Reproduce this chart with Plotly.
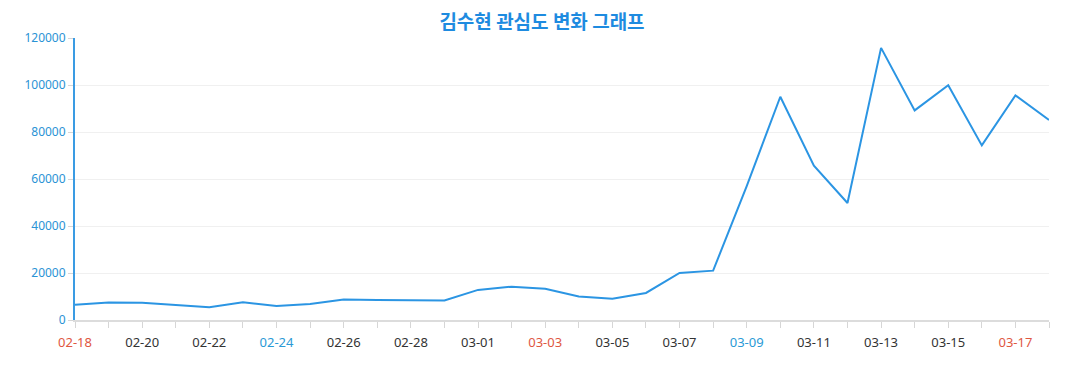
import plotly.graph_objects as go

dates = ["02-18","02-19","02-20","02-21","02-22","02-23","02-24","02-25","02-26","02-27",
         "02-28","02-29","03-01","03-02","03-03","03-04","03-05","03-06","03-07","03-08",
         "03-09","03-10","03-11","03-12","03-13","03-14","03-15","03-16","03-17","03-18"]
values = [6500, 7400, 7300, 6300, 5400, 7500, 6000, 6800, 8700, 8500,
          8500, 8300, 12800, 14200, 13300, 10000, 9000, 11500, 20000, 21000,
          57000, 95000, 65700, 49800, 115800, 89200, 99900, 74300, 95600, 85100]
red_days = ["02-18", "03-03", "03-17"]
blue_days = ["02-24", "03-09"]
title_text = "김수현 관심도 변화 그래프"

ticktext = []
for i, d in enumerate(dates):
    if i % 2 == 1:
        ticktext.append("")
    elif d in red_days:
        ticktext.append(f"<span style='color:#e0573f'>{d}</span>")
    elif d in blue_days:
        ticktext.append(f"<span style='color:#2a9ad6'>{d}</span>")
    else:
        ticktext.append(d)

W, H = 1068, 374
fig = go.Figure()
fig.add_trace(go.Scatter(x=dates, y=values, mode="lines",
                         line=dict(color="#2b95e3", width=2), hoverinfo="x+y"))

fig.update_layout(
    width=W, height=H,
    margin=dict(l=67, r=27, t=30, b=62),
    paper_bgcolor="white", plot_bgcolor="white",
    font=dict(family="Noto Sans, Noto Sans CJK KR, sans-serif"),
    showlegend=False,
    title=dict(text=f"<b>{title_text}</b>", x=0.5, xanchor="center",
               y=1 - 14/H, yanchor="middle", yref="container",
               font=dict(size=19, color="#1e8be0",
                         family="Noto Sans CJK KR, Noto Sans, sans-serif")),
)
fig.update_xaxes(type="category", range=[0, len(dates) - 1],
                 tickmode="array", tickvals=dates, ticktext=ticktext,
                 ticks="outside", ticklen=6, tickcolor="#d6d6d6", tickwidth=1,
                 ticklabelstandoff=3,
                 showline=True, linecolor="#dcdcdc", linewidth=2,
                 showgrid=False, zeroline=False,
                 tickfont=dict(size=13, color="#333333"))
fig.update_yaxes(range=[0, 120000], tickvals=[0, 20000, 40000, 60000, 80000, 100000, 120000],
                 tickformat="d",
                 ticks="outside", ticklen=5, tickcolor="#d6d6d6", tickwidth=1,
                 showline=True, linecolor="#3a9be3", linewidth=2,
                 showgrid=True, gridcolor="#f0f0f0", gridwidth=1, zeroline=False,
                 tickfont=dict(size=12, color="#2a93d5"))

fig.write_html("out.html")
